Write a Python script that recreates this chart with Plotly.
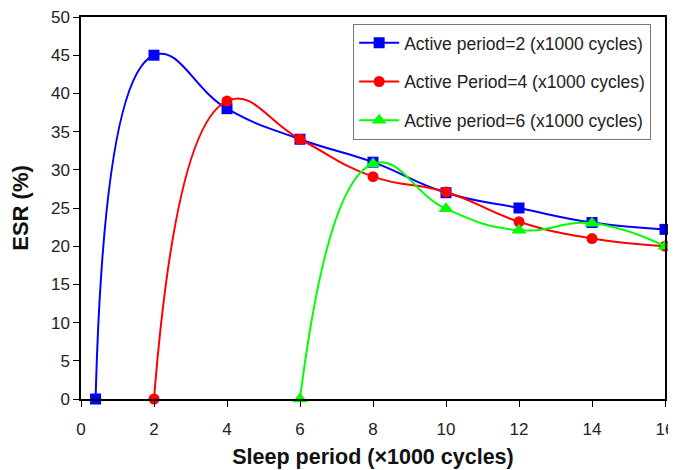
import plotly.graph_objects as go

sleep_blue = [0.4, 2, 4, 6, 8, 10, 12, 14, 16]
esr_blue = [0, 45, 38, 34, 31, 27, 25, 23.1, 22.2]
sleep_red = [2, 4, 6, 8, 10, 12, 14, 16]
esr_red = [0, 39, 34, 29.1, 27.1, 23.2, 21, 20]
sleep_green = [6, 8, 10, 12, 14, 16]
esr_green = [0, 30.8, 24.9, 22.1, 23, 20]

names = ["Active period=2 (x1000 cycles)",
         "Active Period=4 (x1000 cycles)",
         "Active period=6 (x1000 cycles)"]

fig = go.Figure()
series = [
    (sleep_blue, esr_blue, "#0000FF", "square", 11),
    (sleep_red, esr_red, "#FF0000", "circle", 11),
    (sleep_green, esr_green, "#00FF00", "triangle-up", 13),
]
for i, (x, y, c, sym, sz) in enumerate(series):
    fig.add_trace(go.Scatter(
        x=x, y=y, name=names[i], mode="lines+markers",
        line=dict(color=c, width=2, shape="spline", smoothing=1.3),
        marker=dict(color=c, symbol=sym, size=sz),
        legendgroup=f"g{i}", cliponaxis=False))

# page body has an 8px margin, so the figure is 8px smaller than the window
fig.update_layout(
    width=668, height=462,
    margin=dict(l=73, r=11, t=9, b=71, autoexpand=False),
    paper_bgcolor="white", plot_bgcolor="white",
    font=dict(family="Liberation Sans, Arial, sans-serif", color="#222"),
    showlegend=True,
    legend=dict(x=0.466, y=0.982, xanchor="left", yanchor="top",
                bgcolor="white", bordercolor="#777", borderwidth=1,
                font=dict(size=17.5, color="#222"), tracegroupgap=13,
                itemwidth=40),
    xaxis=dict(range=[0, 16], tickvals=[0, 2, 4, 6, 8, 10, 12, 14, 16],
               showgrid=False, zeroline=False, showline=True, linecolor="black",
               linewidth=1.5, mirror=True, ticks="outside", ticklen=6,
               tickcolor="black", tickfont=dict(size=17, color="#222"),
               ticklabelstandoff=8, ticklabeloverflow="allow",
               title=dict(text="<b>Sleep period (×1000 cycles)</b>",
                          font=dict(size=21.5, color="#111"), standoff=11)),
    yaxis=dict(range=[0, 50], tickvals=list(range(0, 51, 5)),
               showgrid=False, zeroline=False, showline=True, linecolor="black",
               linewidth=1.5, mirror=True, ticks="outside", ticklen=6,
               tickcolor="black", tickfont=dict(size=17, color="#222"),
               ticklabeloverflow="allow",
               title=dict(text="<b>ESR (%)</b>",
                          font=dict(size=22, color="#111"), standoff=18)),
)
fig.write_html("out.html")
